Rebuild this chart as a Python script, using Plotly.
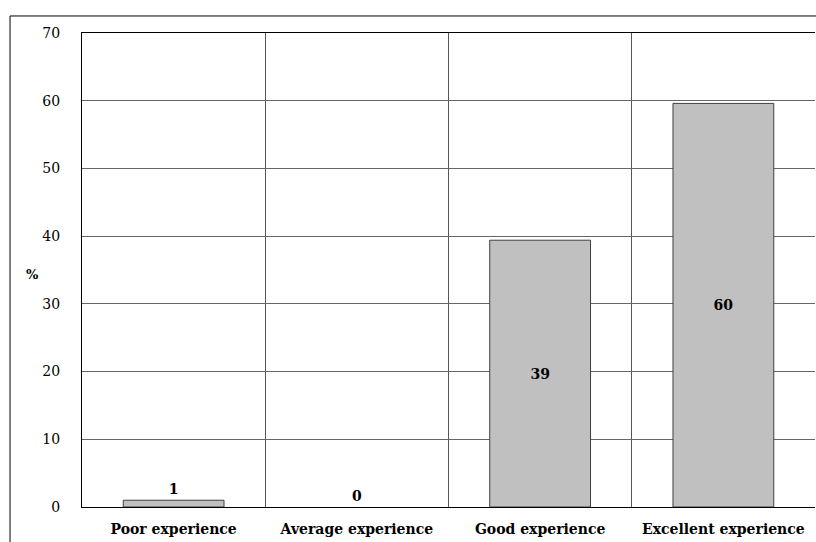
import plotly.graph_objects as go

# Survey responses: share of respondents per experience rating
categories = ["Poor experience", "Average experience", "Good experience", "Excellent experience"]
shares = [1.0, 0.0, 39.4, 59.6]
label_positions = ["outside", "outside", "inside", "inside"]
outline_widths = [1, 0, 1, 1]

y_ticks = [0, 10, 20, 30, 40, 50, 60, 70]

FONT = "DejaVu Serif"

fig = go.Figure(
    go.Bar(
        x=categories,
        y=shares,
        width=0.55,
        marker=dict(color="#c0c0c0", line=dict(color="#404040", width=outline_widths)),
        text=shares,
        texttemplate="<b>%{y:.0f}</b>",
        textposition=label_positions,
        insidetextanchor="middle",
        textfont=dict(family=FONT, size=14, color="black"),
        cliponaxis=False,
    )
)

fig.update_layout(
    width=816,
    height=542,
    margin=dict(l=82, r=1, t=33, b=35),
    paper_bgcolor="white",
    plot_bgcolor="white",
    showlegend=False,
    font=dict(family=FONT, size=14, color="black"),
    xaxis=dict(
        type="category",
        tickson="boundaries",
        ticks="",
        showgrid=True,
        gridcolor="#555555",
        gridwidth=1,
        showline=True,
        linecolor="black",
        linewidth=1,
        mirror=True,
        ticklabelstandoff=9,
        tickvals=categories,
        ticktext=[f"<b>{c}</b>" for c in categories],
        tickfont=dict(family=FONT, size=14),
    ),
    yaxis=dict(
        range=[0, 70],
        tickvals=y_ticks,
        ticks="",
        showgrid=True,
        gridcolor="#666666",
        gridwidth=1,
        showline=True,
        linecolor="black",
        linewidth=1,
        zeroline=False,
        ticklabelstandoff=18,
        tickfont=dict(family=FONT, size=14),
    ),
    annotations=[
        dict(
            text="<b>%</b>",
            xref="paper",
            yref="paper",
            x=-0.068,
            xanchor="center",
            y=0.49,
            showarrow=False,
            font=dict(family=FONT, size=13),
        )
    ],
    shapes=[
        # frame around the chart area
        dict(
            type="rect",
            xref="paper",
            yref="paper",
            x0=-0.0982,
            y0=-0.2,
            x1=1.05,
            y1=1.0359,
            line=dict(color="black", width=1),
            fillcolor="rgba(0,0,0,0)",
            layer="below",
        )
    ],
)

fig.write_html("out.html")
